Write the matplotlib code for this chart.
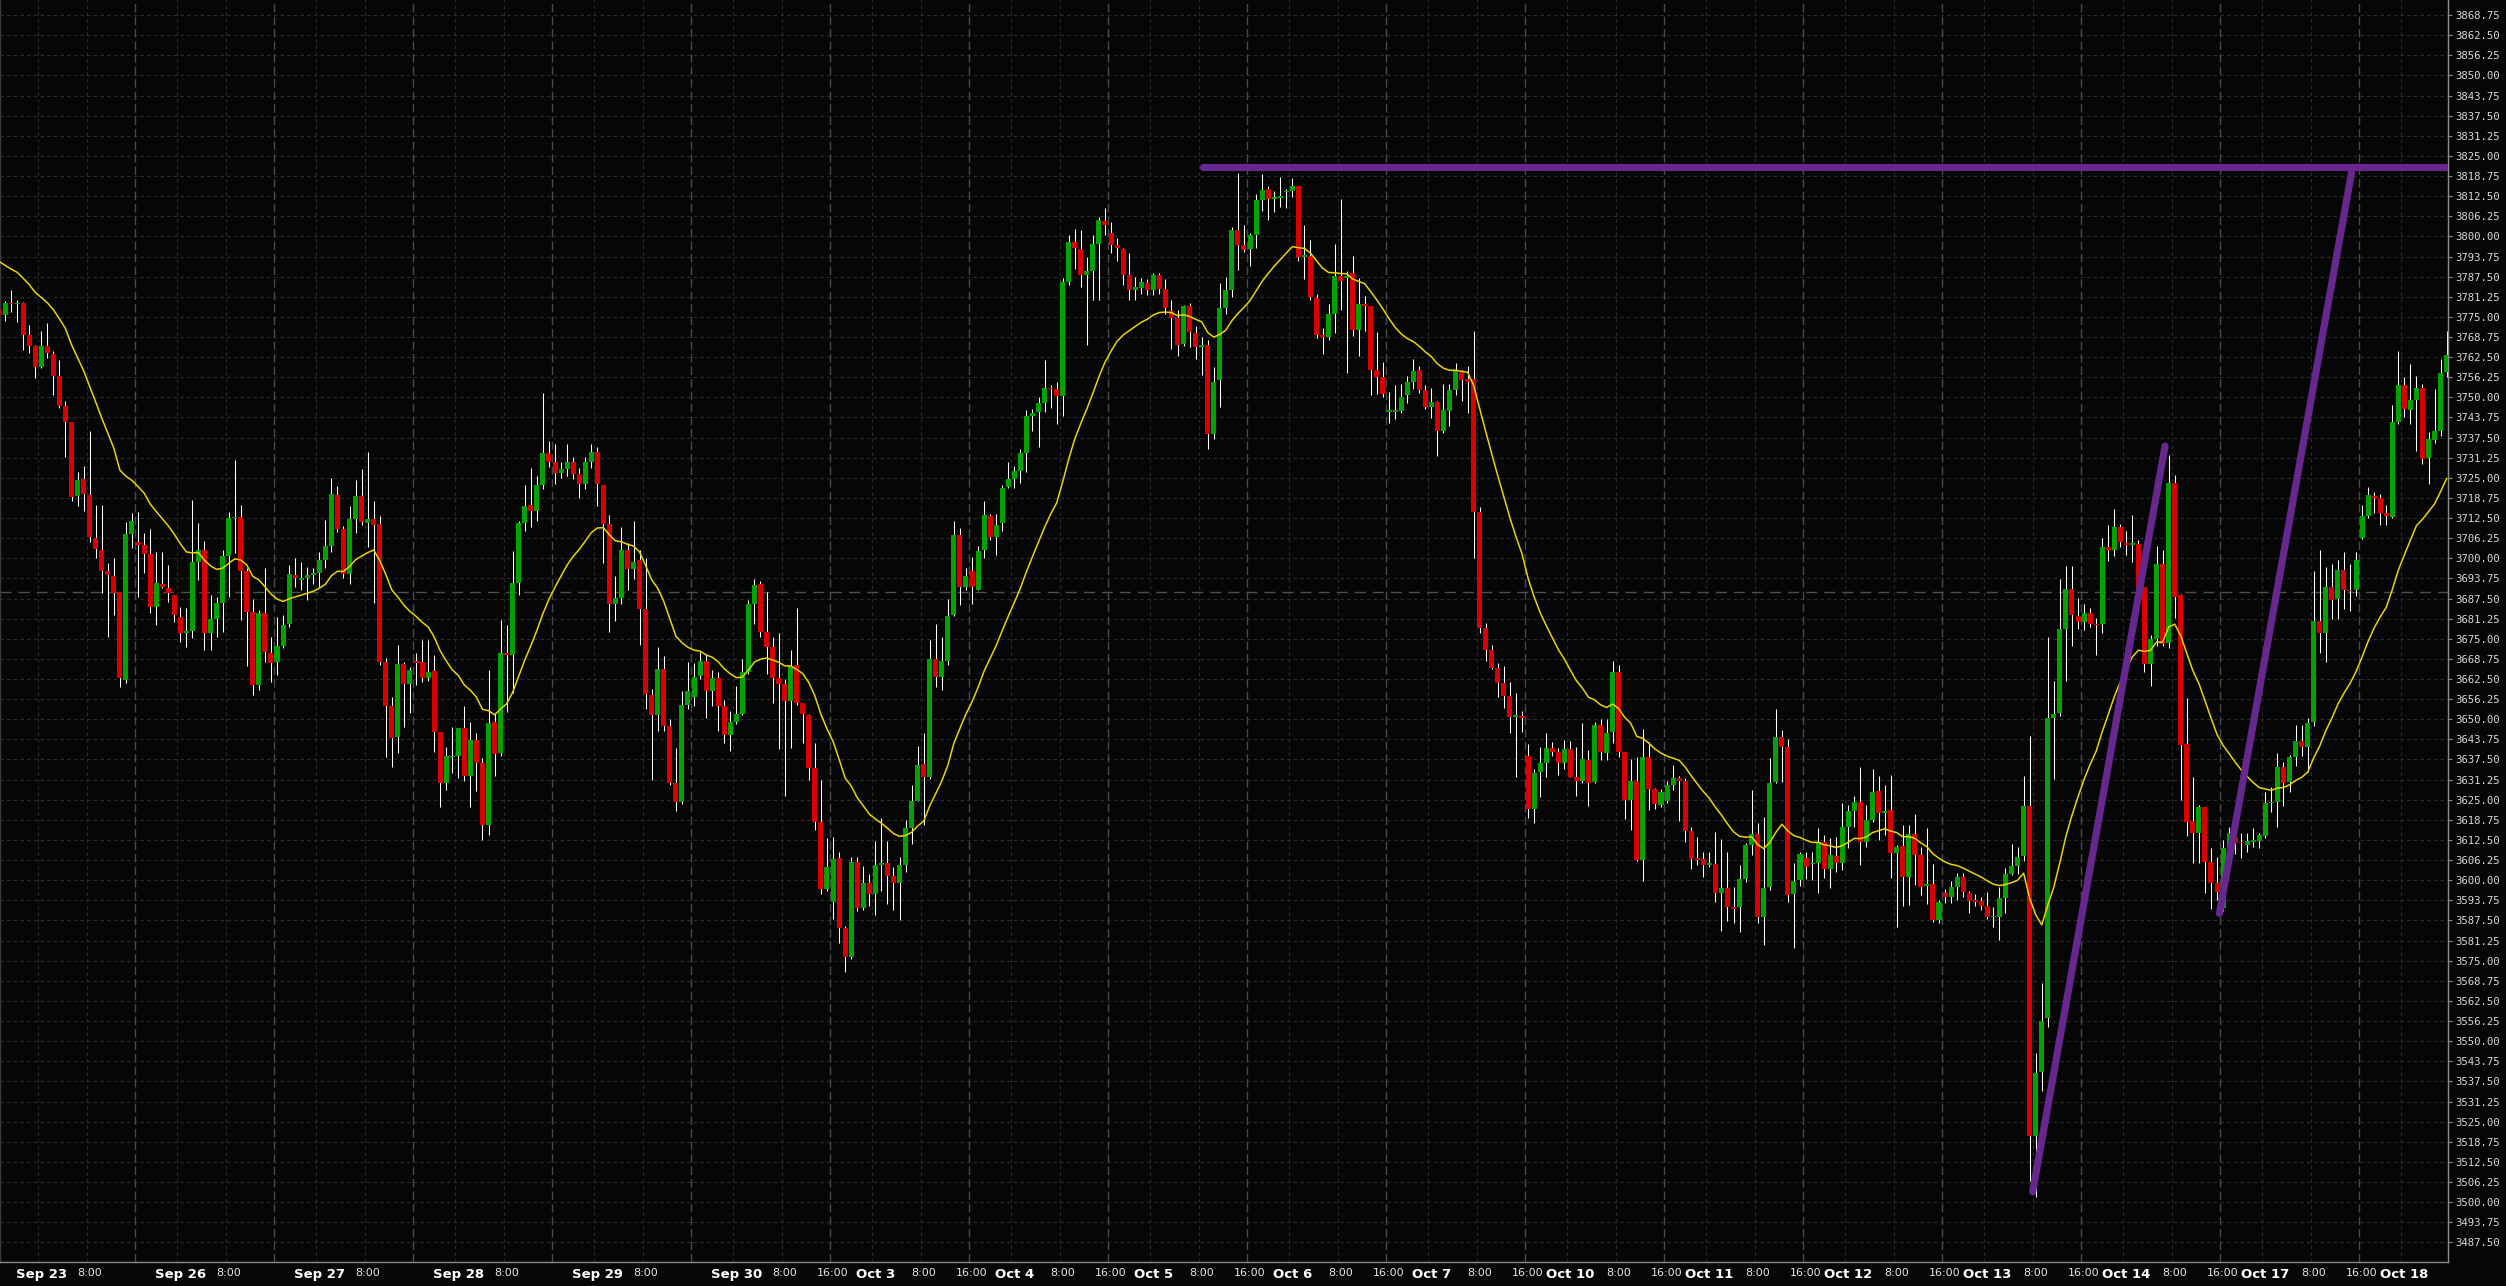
import matplotlib
matplotlib.use("Agg")
import matplotlib.pyplot as plt
import numpy as np
import pandas as pd

# hourly bars, Sep 22 16:00 .. Oct 18 07:00 (23 bars per trading day)
opens = [
    3777.1, 3775.6, 3779.2, 3778.9, 3779.2, 3769.4, 3766.1, 3759.5, 3766.1, 3763.5,
    3756.7, 3747.4, 3742.2, 3719.2, 3724.5, 3719.6, 3706.3, 3702.6, 3696.1, 3694.5,
    3689.6, 3662.2, 3707.7, 3705.1, 3704.1, 3701.3, 3685.0, 3692.0, 3690.7, 3688.6,
    3681.9, 3676.7, 3677.4, 3699.0, 3702.6, 3676.9, 3681.0, 3686.0, 3700.7, 3712.4,
    3712.9, 3696.2, 3683.4, 3660.6, 3683.1, 3670.7, 3667.9, 3672.6, 3679.6, 3694.8,
    3693.3, 3693.8, 3694.8, 3695.5, 3699.5, 3703.8, 3719.7, 3709.1, 3695.1, 3712.1,
    3719.5, 3711.1, 3712.1, 3710.6, 3667.7, 3654.2, 3644.6, 3667.1, 3661.1, 3668.2,
    3667.7, 3662.9, 3665.0, 3646.1, 3630.3, 3638.2, 3638.6, 3647.2, 3632.4, 3643.5,
    3636.3, 3617.0, 3649.2, 3639.4, 3670.6, 3670.1, 3692.3, 3710.9, 3716.6, 3714.7,
    3722.7, 3732.6, 3729.8, 3726.5, 3727.7, 3729.8, 3726.2, 3723.2, 3729.8, 3733.1,
    3722.9, 3710.6, 3685.9, 3687.6, 3702.7, 3696.6, 3699.4, 3684.1, 3657.5, 3651.2,
    3665.7, 3647.9, 3630.3, 3624.2, 3654.5, 3656.9, 3663.5, 3668.1, 3658.8, 3662.7,
    3654.2, 3645.1, 3649.2, 3651.5, 3664.8, 3685.9, 3691.9, 3677.2, 3672.3, 3662.7,
    3661.1, 3655.8, 3667.0, 3655.0, 3651.2, 3634.8, 3618.0, 3597.4, 3593.3, 3606.8,
    3585.1, 3576.0, 3605.7, 3591.3, 3599.1, 3595.8, 3604.8, 3605.2, 3601.2, 3599.1,
    3604.8, 3616.3, 3624.6, 3636.1, 3632.0, 3668.6, 3663.2, 3668.1, 3682.4, 3707.1,
    3691.2, 3696.1, 3690.3, 3702.6, 3713.2, 3706.5, 3710.9, 3722.0, 3724.6, 3727.0,
    3732.7, 3744.2, 3745.3, 3748.2, 3753.0, 3752.5, 3750.3, 3785.9, 3798.3, 3796.0,
    3788.0, 3789.1, 3797.5, 3804.9, 3801.2, 3797.2, 3796.0, 3788.0, 3783.5, 3784.0,
    3785.4, 3783.2, 3788.0, 3783.8, 3776.8, 3774.7, 3766.7, 3778.4, 3769.9, 3765.6,
    3766.2, 3738.6, 3755.4, 3777.9, 3783.2, 3802.0, 3797.2, 3796.0, 3800.4, 3811.3,
    3814.8, 3811.6, 3811.9, 3813.7, 3814.0, 3815.6, 3793.6, 3793.9, 3780.8, 3769.5,
    3768.7, 3775.8, 3787.8, 3787.0, 3788.6, 3771.0, 3779.0, 3778.4, 3758.6, 3756.2,
    3745.6, 3745.6, 3745.8, 3750.6, 3754.9, 3758.6, 3752.2, 3747.1, 3748.5, 3739.4,
    3745.8, 3752.2, 3757.8, 3755.7, 3755.7, 3714.5, 3678.4, 3671.5, 3666.0, 3661.2,
    3657.3, 3650.8, 3651.0, 3638.6, 3622.0, 3633.7, 3636.3, 3641.0, 3639.9, 3636.5,
    3640.8, 3632.2, 3630.9, 3637.3, 3630.6, 3648.2, 3639.6, 3646.1, 3664.8, 3639.9,
    3624.9, 3630.9, 3606.3, 3638.2, 3628.3, 3623.5, 3624.7, 3629.6, 3631.9, 3630.8,
    3615.3, 3606.6, 3606.6, 3604.8, 3605.0, 3596.1, 3597.5, 3591.8, 3591.6, 3600.3,
    3611.0, 3614.4, 3588.5, 3598.0, 3630.6, 3644.4, 3641.3, 3595.7, 3600.0, 3606.8,
    3604.9, 3605.2, 3612.0, 3603.4, 3607.5, 3605.2, 3616.6, 3621.6, 3624.4, 3612.0,
    3618.7, 3627.8, 3621.0, 3621.8, 3608.6, 3610.6, 3601.1, 3614.4, 3607.8, 3598.2,
    3598.8, 3587.6, 3595.9, 3594.9, 3598.0, 3600.9, 3595.9, 3593.9, 3593.5, 3592.0,
    3588.5, 3588.7, 3594.4, 3601.9, 3604.4, 3607.5, 3623.1, 3520.6, 3540.5, 3557.1,
    3650.5, 3651.9, 3678.0, 3690.6, 3682.0, 3680.3, 3682.9, 3679.7, 3679.5, 3703.5,
    3702.7, 3709.6, 3704.8, 3704.1, 3704.4, 3691.0, 3667.1, 3674.9, 3698.3, 3673.7,
    3723.4, 3688.6, 3642.3, 3618.5, 3614.8, 3622.6, 3605.6, 3599.2, 3591.3, 3610.2,
    3613.5, 3612.0, 3610.9, 3612.0, 3612.3, 3613.7, 3623.9, 3624.4, 3635.1, 3630.6,
    3638.2, 3643.1, 3641.3, 3649.0, 3680.6, 3676.8, 3691.0, 3687.5, 3696.4, 3690.3,
    3690.1, 3706.4, 3713.1, 3719.4, 3718.6, 3714.0, 3712.8, 3742.4, 3753.9, 3746.2,
    3749.1, 3753.0, 3731.1, 3736.9, 3739.5, 3757.8,
]
highs = [
    3778.5, 3779.9, 3783.4, 3780.3, 3779.7, 3772.5, 3766.3, 3770.7, 3773.0, 3764.4,
    3761.6, 3748.9, 3742.2, 3726.9, 3728.7, 3739.6, 3716.6, 3716.6, 3698.4, 3700.0,
    3689.6, 3711.4, 3714.0, 3714.3, 3707.8, 3709.1, 3702.1, 3702.1, 3697.9, 3688.6,
    3684.8, 3684.5, 3718.1, 3710.9, 3705.4, 3688.6, 3688.1, 3702.6, 3714.5, 3730.5,
    3716.6, 3696.9, 3687.3, 3684.0, 3696.9, 3675.7, 3681.8, 3682.4, 3697.9, 3700.0,
    3699.0, 3697.4, 3696.9, 3702.1, 3711.9, 3724.8, 3722.5, 3710.0, 3716.3, 3724.3,
    3727.6, 3733.1, 3717.9, 3713.0, 3668.9, 3657.0, 3673.1, 3667.7, 3666.3, 3670.7,
    3674.6, 3674.6, 3670.0, 3646.1, 3641.5, 3647.7, 3647.2, 3654.0, 3649.0, 3645.8,
    3637.9, 3665.3, 3651.8, 3680.8, 3679.2, 3702.3, 3711.7, 3722.9, 3728.2, 3725.7,
    3751.2, 3736.4, 3735.6, 3729.8, 3735.6, 3731.5, 3728.2, 3731.5, 3735.6, 3734.7,
    3722.9, 3713.4, 3694.5, 3709.7, 3704.8, 3711.7, 3702.7, 3700.2, 3659.4, 3672.3,
    3669.8, 3650.1, 3641.0, 3658.8, 3667.8, 3667.6, 3670.9, 3670.3, 3665.3, 3664.8,
    3656.1, 3652.5, 3660.4, 3668.6, 3687.0, 3693.6, 3692.8, 3689.5, 3675.5, 3676.9,
    3662.4, 3671.4, 3684.6, 3655.0, 3651.7, 3642.6, 3631.1, 3613.1, 3613.4, 3608.9,
    3585.9, 3607.3, 3607.3, 3604.5, 3601.9, 3612.3, 3619.3, 3612.3, 3604.0, 3607.3,
    3618.8, 3629.5, 3641.8, 3645.6, 3674.7, 3679.7, 3675.5, 3687.4, 3711.7, 3709.3,
    3696.9, 3700.5, 3703.8, 3717.7, 3713.7, 3713.7, 3722.8, 3729.8, 3728.6, 3733.8,
    3746.1, 3746.3, 3750.1, 3761.5, 3753.8, 3754.9, 3787.0, 3800.4, 3802.4, 3802.0,
    3793.5, 3800.4, 3806.0, 3808.9, 3804.4, 3799.6, 3796.3, 3794.7, 3787.5, 3787.0,
    3786.7, 3788.6, 3788.6, 3786.7, 3780.3, 3777.1, 3778.7, 3779.3, 3772.3, 3768.7,
    3767.8, 3759.4, 3785.4, 3787.5, 3802.8, 3819.6, 3803.6, 3801.2, 3813.2, 3819.3,
    3815.6, 3814.0, 3818.5, 3814.8, 3818.0, 3815.6, 3803.6, 3798.8, 3782.2, 3771.5,
    3779.0, 3797.6, 3811.6, 3789.1, 3793.9, 3787.0, 3781.6, 3778.4, 3770.3, 3761.0,
    3751.7, 3753.8, 3754.3, 3756.5, 3761.8, 3759.8, 3753.8, 3753.0, 3749.0, 3754.3,
    3754.3, 3760.7, 3758.6, 3759.8, 3770.7, 3716.0, 3680.0, 3673.0, 3667.5, 3666.5,
    3661.7, 3658.3, 3652.7, 3642.3, 3634.4, 3641.3, 3645.8, 3643.0, 3641.0, 3643.6,
    3643.3, 3641.5, 3648.9, 3640.4, 3649.3, 3650.0, 3650.0, 3668.0, 3667.0, 3639.9,
    3637.6, 3638.2, 3646.9, 3643.0, 3628.5, 3628.2, 3630.9, 3635.8, 3632.4, 3631.6,
    3616.6, 3613.5, 3608.9, 3608.9, 3615.1, 3612.7, 3608.9, 3598.0, 3604.7, 3611.7,
    3628.0, 3617.7, 3619.7, 3637.9, 3653.1, 3646.7, 3643.8, 3605.2, 3608.9, 3608.9,
    3608.9, 3616.1, 3614.0, 3613.0, 3613.5, 3623.9, 3623.4, 3626.2, 3635.1, 3623.4,
    3634.4, 3632.4, 3629.6, 3632.7, 3610.9, 3617.2, 3617.0, 3620.6, 3610.4, 3616.1,
    3605.0, 3593.9, 3597.2, 3599.6, 3602.3, 3602.3, 3596.7, 3595.7, 3594.9, 3596.4,
    3591.8, 3598.0, 3603.7, 3611.3, 3610.4, 3632.4, 3644.8, 3546.2, 3568.2, 3675.4,
    3661.9, 3693.7, 3697.5, 3697.5, 3687.7, 3685.7, 3684.5, 3681.4, 3706.2, 3710.5,
    3715.4, 3710.8, 3708.4, 3713.3, 3705.6, 3691.2, 3676.3, 3703.8, 3702.7, 3732.0,
    3725.9, 3689.0, 3656.7, 3632.0, 3623.4, 3622.6, 3609.9, 3607.3, 3612.5, 3616.6,
    3615.0, 3614.6, 3614.8, 3616.1, 3614.6, 3627.5, 3628.9, 3639.6, 3636.8, 3638.9,
    3648.2, 3648.2, 3650.3, 3696.0, 3702.7, 3697.2, 3698.3, 3699.5, 3702.1, 3698.1,
    3702.1, 3716.7, 3722.3, 3720.5, 3719.9, 3716.5, 3747.5, 3764.5, 3756.2, 3760.3,
    3756.5, 3754.3, 3739.2, 3752.6, 3762.0, 3770.6,
]
lows = [
    3774.5, 3773.8, 3776.6, 3773.5, 3764.7, 3763.9, 3756.1, 3759.0, 3762.1, 3750.7,
    3746.8, 3731.6, 3717.9, 3716.3, 3714.8, 3705.2, 3700.0, 3689.1, 3675.7, 3682.4,
    3660.1, 3661.4, 3703.1, 3688.1, 3695.3, 3682.9, 3679.3, 3690.7, 3686.5, 3680.3,
    3674.1, 3672.4, 3675.2, 3693.3, 3671.5, 3671.5, 3675.4, 3677.2, 3688.1, 3701.5,
    3680.8, 3666.4, 3657.5, 3659.1, 3667.9, 3661.7, 3663.8, 3672.1, 3678.8, 3691.2,
    3690.0, 3687.0, 3692.0, 3691.2, 3696.9, 3702.0, 3708.3, 3694.0, 3692.0, 3708.0,
    3710.3, 3703.6, 3686.0, 3666.9, 3638.4, 3635.1, 3639.6, 3647.5, 3652.0, 3660.6,
    3661.7, 3662.0, 3639.9, 3622.8, 3628.0, 3633.2, 3631.6, 3630.9, 3622.8, 3627.8,
    3612.5, 3614.0, 3632.4, 3638.5, 3652.2, 3658.3, 3688.7, 3708.4, 3709.7, 3711.7,
    3721.6, 3728.5, 3723.2, 3724.9, 3725.7, 3724.5, 3718.6, 3721.6, 3728.2, 3716.3,
    3698.6, 3677.2, 3680.5, 3685.7, 3690.0, 3693.6, 3673.1, 3653.3, 3631.1, 3646.3,
    3646.3, 3629.5, 3621.6, 3623.7, 3653.3, 3654.2, 3662.4, 3650.5, 3654.2, 3646.3,
    3642.7, 3640.2, 3648.4, 3651.2, 3664.0, 3679.6, 3675.5, 3664.0, 3655.0, 3640.7,
    3626.2, 3641.0, 3654.5, 3642.6, 3631.1, 3615.5, 3595.8, 3596.6, 3588.0, 3580.5,
    3571.6, 3575.6, 3590.3, 3590.8, 3592.0, 3589.2, 3596.6, 3592.5, 3590.8, 3587.6,
    3602.4, 3611.4, 3624.6, 3617.1, 3631.5, 3659.9, 3659.1, 3667.0, 3682.1, 3685.4,
    3690.3, 3685.7, 3690.0, 3700.1, 3705.7, 3700.9, 3708.4, 3721.7, 3721.7, 3723.3,
    3726.9, 3739.4, 3734.6, 3745.3, 3746.6, 3741.8, 3744.2, 3784.8, 3789.9, 3784.3,
    3766.2, 3780.3, 3780.3, 3800.4, 3794.7, 3792.3, 3784.8, 3780.3, 3780.3, 3782.2,
    3781.9, 3781.9, 3782.2, 3775.8, 3765.1, 3763.0, 3765.9, 3765.6, 3761.8, 3757.0,
    3733.8, 3737.0, 3746.9, 3775.8, 3781.1, 3789.6, 3795.1, 3790.7, 3796.3, 3807.9,
    3805.2, 3807.6, 3809.2, 3808.9, 3812.1, 3792.3, 3786.7, 3780.3, 3768.3, 3763.5,
    3767.8, 3769.9, 3777.1, 3757.5, 3769.1, 3763.0, 3770.7, 3750.6, 3751.1, 3750.1,
    3742.1, 3743.4, 3745.0, 3748.2, 3752.7, 3751.4, 3746.3, 3743.7, 3731.8, 3738.9,
    3741.0, 3750.6, 3749.0, 3745.0, 3700.1, 3676.8, 3668.0, 3665.5, 3657.0, 3653.6,
    3645.6, 3632.2, 3646.1, 3619.2, 3617.7, 3625.9, 3632.0, 3638.6, 3632.7, 3634.4,
    3632.0, 3626.2, 3630.3, 3623.1, 3630.3, 3637.3, 3637.3, 3642.7, 3638.2, 3618.9,
    3615.6, 3606.1, 3599.9, 3621.8, 3622.0, 3622.8, 3623.9, 3628.0, 3618.5, 3612.0,
    3603.4, 3604.7, 3600.9, 3604.0, 3593.3, 3584.3, 3587.4, 3586.6, 3584.0, 3599.5,
    3607.8, 3586.8, 3579.9, 3597.0, 3630.1, 3630.6, 3593.3, 3578.8, 3598.2, 3600.3,
    3600.1, 3595.9, 3600.6, 3597.5, 3602.7, 3603.2, 3609.9, 3616.6, 3604.7, 3610.4,
    3618.2, 3612.5, 3614.0, 3600.6, 3585.4, 3592.0, 3592.3, 3598.5, 3595.4, 3592.6,
    3587.1, 3586.8, 3592.8, 3593.0, 3593.9, 3594.9, 3589.9, 3592.0, 3590.8, 3587.8,
    3585.6, 3581.4, 3589.9, 3601.6, 3601.9, 3606.1, 3506.4, 3501.7, 3534.6, 3554.3,
    3631.3, 3651.0, 3661.9, 3672.8, 3678.0, 3677.7, 3678.6, 3670.0, 3676.9, 3699.3,
    3700.7, 3703.6, 3701.0, 3698.7, 3688.0, 3664.8, 3660.2, 3672.9, 3672.9, 3672.0,
    3681.4, 3625.0, 3613.7, 3605.2, 3605.2, 3596.1, 3591.0, 3594.0, 3590.5, 3605.7,
    3608.0, 3606.8, 3608.9, 3610.4, 3609.9, 3613.0, 3621.3, 3616.4, 3622.9, 3627.5,
    3635.5, 3638.6, 3633.7, 3648.0, 3670.5, 3667.7, 3681.1, 3681.1, 3684.3, 3683.7,
    3688.3, 3705.9, 3712.5, 3714.2, 3710.5, 3710.5, 3712.5, 3741.8, 3743.8, 3741.8,
    3733.3, 3729.4, 3723.0, 3735.9, 3738.0, 3756.2,
]
closes = [
    3775.6, 3779.2, 3778.9, 3779.4, 3769.4, 3766.1, 3759.5, 3766.1, 3763.9, 3756.7,
    3747.4, 3742.4, 3719.0, 3724.3, 3720.0, 3706.5, 3702.8, 3696.2, 3694.8, 3689.3,
    3662.7, 3707.5, 3711.7, 3704.2, 3701.3, 3685.0, 3692.2, 3691.0, 3689.1, 3682.4,
    3676.9, 3677.4, 3699.0, 3702.6, 3676.9, 3681.0, 3686.0, 3700.7, 3712.6, 3712.9,
    3696.2, 3683.4, 3660.6, 3683.1, 3671.0, 3667.4, 3672.6, 3679.3, 3695.1, 3693.8,
    3693.8, 3694.8, 3695.5, 3699.5, 3703.8, 3719.9, 3709.1, 3695.1, 3712.1, 3719.5,
    3711.4, 3712.1, 3710.4, 3667.9, 3654.2, 3644.3, 3667.1, 3661.1, 3665.3, 3667.6,
    3662.9, 3664.7, 3646.1, 3630.1, 3638.6, 3638.6, 3647.2, 3632.4, 3643.5, 3636.5,
    3617.1, 3648.7, 3639.2, 3670.6, 3670.1, 3692.3, 3710.9, 3716.3, 3714.7, 3722.7,
    3732.6, 3729.8, 3726.5, 3727.7, 3729.8, 3726.2, 3723.2, 3729.8, 3733.1, 3723.2,
    3710.6, 3685.9, 3687.6, 3702.7, 3696.6, 3699.0, 3684.1, 3657.8, 3651.2, 3665.7,
    3647.9, 3630.3, 3624.2, 3654.5, 3658.8, 3663.2, 3668.1, 3658.8, 3662.7, 3654.2,
    3645.1, 3649.2, 3651.5, 3664.8, 3685.9, 3691.6, 3677.2, 3672.3, 3662.7, 3661.1,
    3655.8, 3666.5, 3655.0, 3651.7, 3634.8, 3618.0, 3597.4, 3604.0, 3606.5, 3585.1,
    3576.0, 3605.7, 3591.3, 3599.1, 3595.8, 3604.8, 3605.3, 3601.2, 3599.1, 3604.8,
    3616.3, 3624.6, 3635.7, 3632.0, 3668.6, 3663.2, 3668.1, 3682.1, 3707.1, 3691.2,
    3694.4, 3691.2, 3702.3, 3713.3, 3706.5, 3710.5, 3721.7, 3724.6, 3727.0, 3732.7,
    3744.2, 3745.0, 3748.2, 3753.0, 3752.5, 3750.3, 3785.9, 3798.3, 3796.3, 3788.0,
    3789.1, 3797.5, 3805.2, 3803.6, 3797.2, 3796.3, 3788.0, 3783.5, 3784.3, 3785.9,
    3783.2, 3788.0, 3783.8, 3777.9, 3774.7, 3766.2, 3778.4, 3770.3, 3765.6, 3766.2,
    3738.6, 3754.9, 3777.9, 3783.2, 3802.0, 3797.2, 3795.9, 3800.4, 3811.3, 3814.5,
    3811.6, 3812.1, 3812.4, 3814.0, 3815.6, 3793.6, 3794.2, 3781.1, 3769.5, 3768.7,
    3775.8, 3787.8, 3786.2, 3787.8, 3771.0, 3779.0, 3778.4, 3758.6, 3756.2, 3751.1,
    3746.2, 3746.2, 3750.1, 3754.9, 3758.3, 3752.2, 3747.1, 3748.7, 3739.4, 3746.1,
    3752.2, 3758.2, 3755.4, 3754.9, 3714.5, 3678.4, 3671.5, 3666.0, 3661.2, 3657.3,
    3650.8, 3651.3, 3650.5, 3622.0, 3633.2, 3636.5, 3641.0, 3639.9, 3636.3, 3640.8,
    3632.2, 3630.9, 3637.5, 3630.3, 3648.2, 3639.9, 3645.6, 3664.8, 3639.9, 3624.9,
    3630.9, 3606.3, 3638.2, 3628.3, 3623.7, 3627.4, 3629.6, 3631.9, 3630.9, 3615.3,
    3606.6, 3606.3, 3604.7, 3605.4, 3596.1, 3597.5, 3591.8, 3591.2, 3600.3, 3611.0,
    3614.4, 3588.5, 3597.5, 3630.1, 3644.4, 3641.5, 3595.4, 3599.9, 3608.1, 3604.2,
    3605.4, 3612.0, 3603.4, 3607.8, 3605.2, 3616.6, 3621.6, 3624.4, 3612.0, 3618.7,
    3627.5, 3621.0, 3621.6, 3608.6, 3610.2, 3601.1, 3614.4, 3607.8, 3598.0, 3598.8,
    3587.6, 3593.3, 3594.9, 3598.0, 3600.9, 3596.4, 3593.6, 3593.3, 3592.1, 3588.7,
    3588.9, 3594.4, 3601.9, 3604.4, 3607.1, 3623.1, 3520.6, 3540.2, 3556.4, 3650.3,
    3651.6, 3678.0, 3690.6, 3682.3, 3680.3, 3682.9, 3679.7, 3679.2, 3703.5, 3702.7,
    3709.6, 3705.2, 3704.1, 3704.8, 3691.2, 3667.3, 3674.9, 3698.3, 3673.4, 3723.4,
    3688.0, 3642.0, 3618.2, 3614.6, 3622.6, 3605.8, 3599.2, 3596.4, 3609.9, 3614.8,
    3611.5, 3611.5, 3612.3, 3612.5, 3614.1, 3624.1, 3624.4, 3635.1, 3630.3, 3638.2,
    3643.1, 3641.3, 3648.7, 3680.6, 3676.8, 3691.0, 3687.2, 3696.4, 3690.3, 3689.8,
    3699.5, 3713.1, 3719.7, 3718.6, 3714.0, 3713.1, 3742.4, 3753.9, 3746.3, 3749.1,
    3753.0, 3730.7, 3737.2, 3739.5, 3757.5, 3763.3,
]

# yellow moving average: 20-bar EMA of the closes, value at the left edge
ma_start = 3794.0
ma_span = 20

# x axis labels
days = ["Sep 23", "Sep 26", "Sep 27", "Sep 28", "Sep 29", "Sep 30", "Oct 3", "Oct 4",
        "Oct 5", "Oct 6", "Oct 7", "Oct 10", "Oct 11", "Oct 12", "Oct 13", "Oct 14",
        "Oct 17", "Oct 18"]
bars_per_day = 23
first_midnight = 7          # bar index of Sep 23 00:00
first_16h_label_day = 5     # 16:00 labels appear from Sep 30 on

# drawn lines (bar index, price)
trend_x = [[199.2, 405.5], [336.5, 358.4], [367.4, 389.4]]
trend_y = [[3821.6, 3821.6], [3503.2, 3734.9], [3589.7, 3821.3]]
crosshair_price = 3689.5

BG = "#060606"
UP = "#00a300"
DOWN = "#d80000"

o = np.array(opens)
h = np.array(highs)
l = np.array(lows)
c = np.array(closes)
x = np.arange(len(c))

ma = pd.Series([ma_start] + closes).ewm(span=ma_span, adjust=False).mean().to_numpy()[1:]

fig = plt.figure(figsize=(25.06, 12.86), dpi=100, facecolor=BG)
ax = fig.add_axes([0, 24 / 1286, 2448 / 2506, 1262 / 1286], facecolor=BG)

ax.set_xlim(0.1655, 405.22)
ax.set_ylim(3481.39, 3873.44)

# grid
yt = np.arange(3487.5, 3868.76, 6.25)
for p in yt:
    ax.axhline(p, color="#2c2c2c", lw=0.8, ls=(0, (3, 3)), zorder=0)
for d in range(len(days)):
    b = first_midnight + bars_per_day * d
    ax.axvline(b - 0.5, color="#2c2c2c", lw=0.8, ls=(0, (3, 3)), zorder=0)
    ax.axvline(b + 8 - 0.5, color="#2c2c2c", lw=0.8, ls=(0, (3, 3)), zorder=0)
    ax.axvline(b + 16 - 0.5, color="#4a4a4a", lw=1.0, ls=(0, (6, 3)), zorder=0)
ax.axhline(crosshair_price, color="#4e4e4e", lw=1.0, ls=(0, (8, 5)), zorder=0)

# candles
up = c >= o
colors = np.where(up, UP, DOWN)
ax.vlines(x, l, h, color="white", lw=0.75, zorder=2)
body = np.maximum(np.abs(c - o), 0.45)
ax.bar(x, body, bottom=np.minimum(o, c), width=0.83, color=colors, linewidth=0, zorder=3)

ax.plot(x, ma, color="#e8d400", lw=1.1, zorder=4)

for tx, ty in zip(trend_x, trend_y):
    ax.plot(tx, ty, color="#66278f", lw=5.2, solid_capstyle="round", zorder=5)

# y axis on the right
ax.yaxis.tick_right()
ax.set_yticks(yt)
ax.set_yticklabels(["%.2f" % p for p in yt])
ax.tick_params(axis="y", length=3, width=0.8, color="#8c8c8c", pad=2,
               labelsize=7.7, labelcolor="#d8d8d8")
for t in ax.get_yticklabels():
    t.set_fontfamily("DejaVu Sans Mono")

# x labels: day names bold, hours plain
pos = []
lab = []
for d, name in enumerate(days):
    b = first_midnight + bars_per_day * d
    pos.append(b)
    lab.append(name)
    if b + 8 < len(c):
        pos.append(b + 8)
        lab.append("8:00")
    if d >= first_16h_label_day and b + 16 < len(c):
        pos.append(b + 16)
        lab.append("16:00")
ax.set_xticks(pos)
ax.set_xticklabels(lab)
ax.tick_params(axis="x", length=0, pad=4, labelcolor="white")
for t in ax.get_xticklabels():
    if ":" in t.get_text():
        t.set_fontsize(8)
        t.set_color("#e6e6e6")
    else:
        t.set_fontsize(9.5)
        t.set_fontweight("bold")
        t.set_fontfamily(["Liberation Sans Narrow", "DejaVu Sans"])

for side in ["top"]:
    ax.spines[side].set_visible(False)
ax.spines["right"].set_color("#8c8c8c")
ax.spines["bottom"].set_color("#8c8c8c")
ax.spines["left"].set_color("#3a3a3a")
for s in ax.spines.values():
    s.set_linewidth(1.0)

fig.savefig("out.png", dpi=100, facecolor=BG)
